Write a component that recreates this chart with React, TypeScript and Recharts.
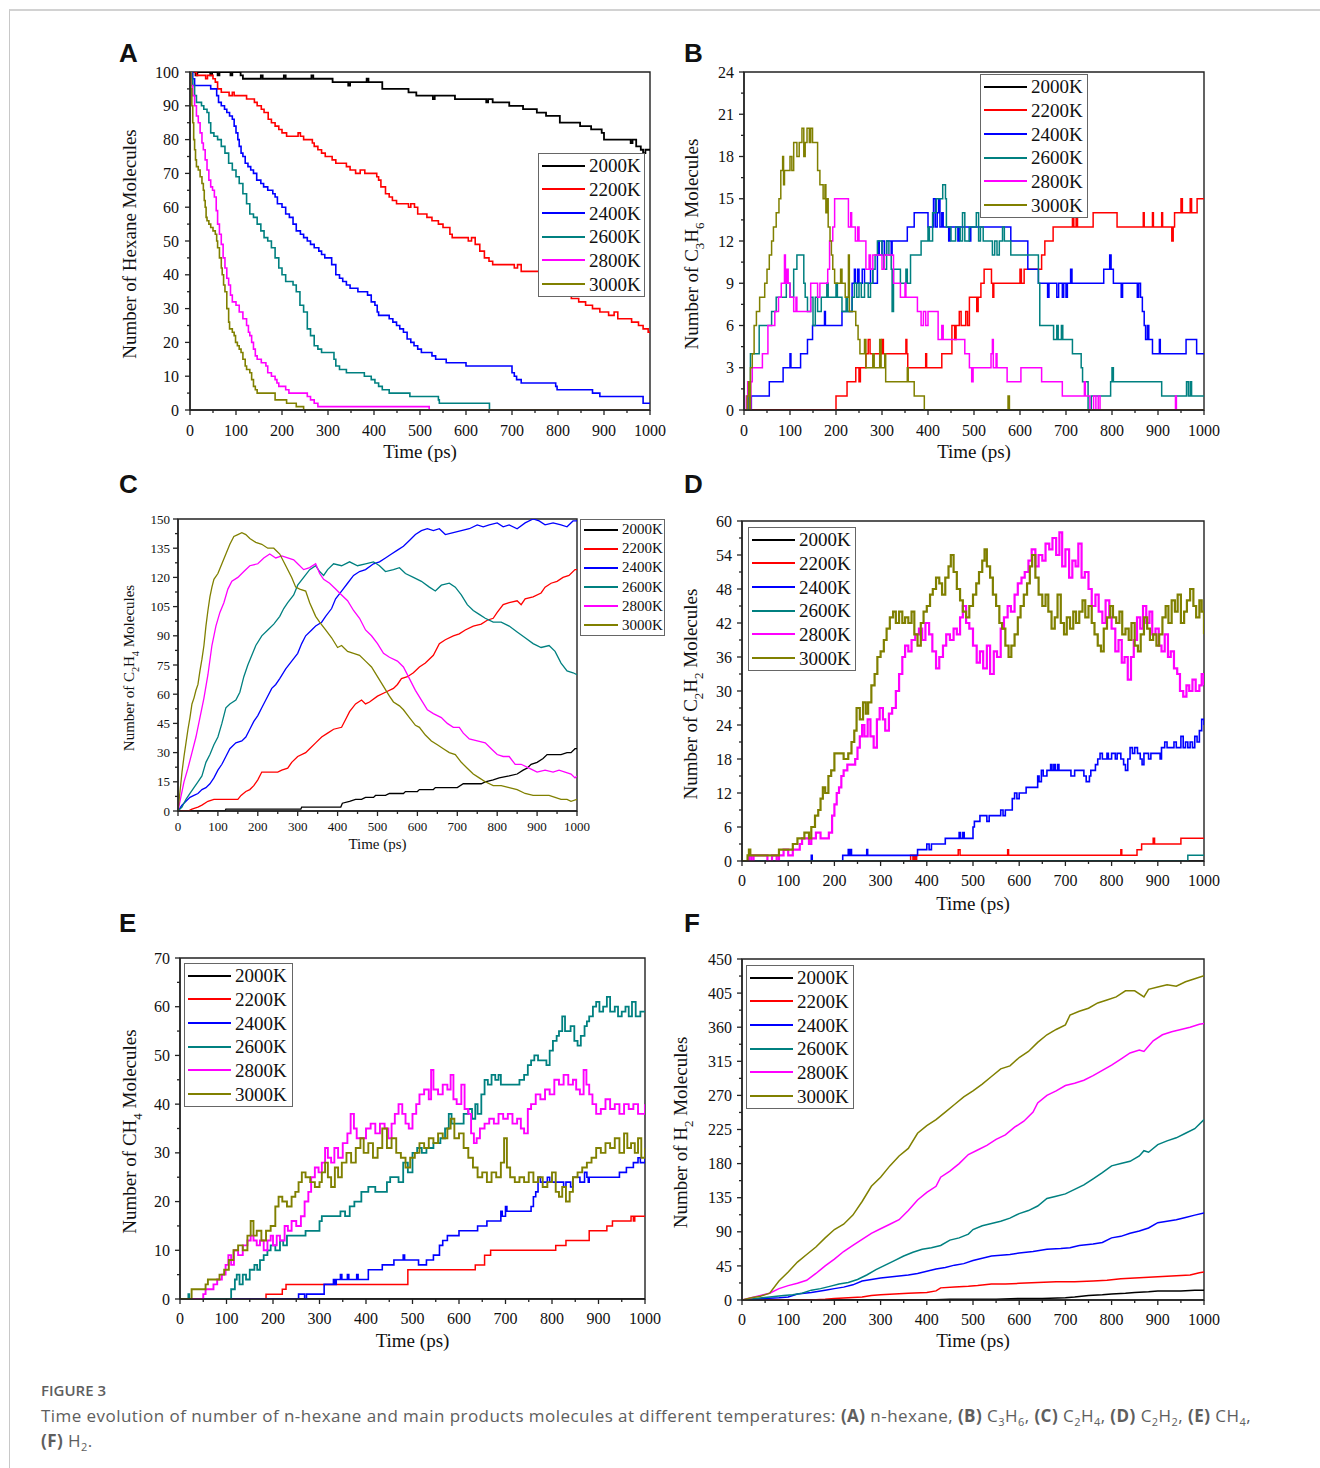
import React from 'react';
import { LineChart, Line, XAxis, YAxis, ReferenceArea, Legend } from 'recharts';

const SERIF = '"Liberation Serif", "Times New Roman", serif';
const TEMPS = ['2000K', '2200K', '2400K', '2600K', '2800K', '3000K'];
const COLORS = ['#000000', '#ff0000', '#0000ff', '#008080', '#ff00ff', '#808000'];
const X_MAJOR = [0, 100, 200, 300, 400, 500, 600, 700, 800, 900, 1000];

type P = [number, number];

// ---------- Panel A: n-hexane ----------
const A_Y = [0, 10, 20, 30, 40, 50, 60, 70, 80, 90, 100];
const A_2000: P[] = [[0,100],[8,100],[12,99],[16,100],[40,100],[44,99],[48,100],[60,99],[64,100],[88,99],[92,100],[110,99],[115,98],[150,98],[154,99],[158,98],[204,99],[208,98],[264,99],[268,98],[310,97],[344,96],[348,97],[384,98],[388,97],[418,95],[470,95],[475,94],[488,94],[492,93],[528,92],[532,93],[573,93],[576,92],[644,91],[648,92],[658,91],[694,90],[724,89],[754,88],[774,87],[804,85],[848,84],[872,83],[895,82],[900,80],[958,79],[962,80],[970,78],[980,77],[985,76],[990,77],[1000,77]];
const A_2200: P[] = [[0,100],[14,99],[34,98],[38,99],[50,98],[55,97],[60,95],[68,94],[85,93],[92,94],[96,93],[123,92],[140,91],[146,90],[155,89],[161,88],[170,86],[177,85],[185,84],[193,83],[200,82],[210,81],[235,82],[240,81],[247,80],[266,79],[270,78],[278,77],[286,76],[294,75],[309,74],[317,73],[340,72],[348,71],[360,70],[370,71],[380,70],[406,69],[410,68],[415,66],[425,64],[433,63],[440,62],[449,61],[475,60],[480,61],[488,60],[495,58],[515,57],[526,56],[540,55],[550,54],[565,52],[570,51],[605,50],[612,51],[620,49],[630,47],[640,45],[650,44],[658,43],[705,42],[712,43],[720,41],[760,40],[790,40],[800,38],[820,35],[829,33],[845,32],[860,31],[875,30],[891,29],[910,28],[922,29],[930,27],[960,26],[975,25],[985,24],[996,23],[1000,23]];
const A_2400: P[] = [[0,100],[6,98],[10,96],[45,95],[58,93],[62,91],[68,90],[75,89],[80,88],[86,87],[92,86],[96,84],[100,82],[104,80],[107,78],[111,76],[115,75],[120,73],[126,72],[132,71],[138,70],[145,68],[154,67],[160,66],[169,65],[180,64],[185,63],[190,61],[200,60],[208,58],[216,57],[224,55],[231,53],[240,52],[247,51],[255,50],[262,49],[270,48],[280,47],[286,46],[293,45],[308,43],[317,40],[325,39],[332,38],[340,37],[348,36],[365,35],[386,34],[394,32],[402,31],[407,29],[410,28],[433,27],[441,26],[449,25],[456,24],[464,23],[472,21],[480,20],[487,19],[495,18],[503,17],[526,16],[534,15],[557,14],[600,13],[700,11],[705,10],[710,9],[720,8],[795,7],[798,6],[875,5],[891,4],[985,2],[1000,2]];
const A_2600: P[] = [[0,100],[4,98],[6,96],[10,93],[14,91],[25,90],[30,89],[37,88],[41,85],[45,82],[52,81],[60,80],[68,78],[76,76],[84,73],[92,71],[100,69],[107,67],[115,64],[123,61],[130,58],[138,57],[146,55],[154,53],[161,51],[169,50],[177,48],[185,45],[193,42],[200,40],[208,38],[224,37],[231,35],[239,31],[247,29],[255,24],[262,22],[270,19],[278,18],[286,17],[313,15],[317,13],[325,12],[340,11],[379,10],[394,9],[402,8],[410,7],[418,6],[433,5],[478,4],[540,3],[542,2],[651,0],[1000,0]];
const A_2800: P[] = [[0,100],[2,96],[6,93],[10,90],[14,87],[18,85],[22,82],[26,79],[29,77],[33,74],[37,71],[41,68],[45,66],[49,65],[53,63],[57,59],[60,55],[64,52],[68,49],[72,45],[76,42],[80,39],[84,37],[88,34],[92,32],[100,31],[107,29],[115,27],[123,25],[127,23],[130,22],[134,20],[138,18],[142,16],[146,15],[155,14],[165,13],[169,11],[177,10],[185,9],[189,8],[193,7],[208,6],[215,5],[255,4],[262,3],[270,2],[278,1],[518,1],[520,0],[1000,0]];
const A_3000: P[] = [[0,100],[2,95],[4,90],[6,85],[8,80],[10,77],[12,74],[14,72],[18,71],[22,69],[26,67],[29,65],[31,62],[33,60],[35,57],[37,56],[41,55],[45,54],[50,53],[55,52],[58,50],[60,48],[64,45],[68,42],[70,40],[73,37],[76,35],[80,30],[84,26],[86,24],[92,23],[96,22],[99,20],[103,19],[107,18],[111,17],[115,15],[120,13],[123,12],[130,11],[134,9],[138,7],[142,6],[146,5],[185,3],[210,2],[231,1],[247,0],[1000,0]];

// ---------- Panel B: C3H6 ----------
const B_Y = [0, 3, 6, 9, 12, 15, 18, 21, 24];
const B_2000: P[] = [[0,0],[1000,0]];
const B_2200: P[] = [[0,0],[200,1],[224,2],[243,3],[250,2],[253,3],[265,4],[270,5],[274,4],[300,5],[303,4],[352,5],[354,4],[356,3],[395,4],[397,3],[430,4],[452,6],[458,5],[461,6],[468,7],[472,6],[482,7],[486,6],[490,8],[506,7],[509,8],[515,9],[522,10],[538,9],[541,8],[543,9],[600,10],[603,9],[609,10],[647,11],[654,12],[672,13],[714,14],[717,13],[722,14],[725,13],[759,14],[811,13],[868,14],[870,13],[888,14],[890,13],[908,14],[910,13],[930,12],[933,13],[936,14],[950,15],[953,14],[970,15],[973,14],[985,15],[1000,15]];
const B_2400: P[] = [[0,0],[16,1],[55,2],[85,3],[100,4],[102,3],[123,4],[138,5],[149,6],[175,7],[177,6],[213,7],[235,9],[240,10],[242,9],[247,10],[250,9],[257,10],[262,9],[275,10],[280,9],[290,11],[292,12],[294,11],[300,12],[305,11],[310,12],[320,11],[322,12],[355,13],[370,14],[400,13],[412,15],[416,13],[420,14],[423,15],[426,13],[430,14],[433,13],[445,12],[448,13],[465,12],[468,13],[490,12],[493,13],[580,12],[617,10],[640,9],[660,8],[663,9],[680,8],[684,9],[692,8],[695,9],[700,8],[703,9],[710,10],[713,9],[782,10],[795,11],[798,10],[803,9],[820,8],[823,9],[855,8],[858,9],[862,8],[866,7],[870,6],[873,5],[877,6],[880,5],[888,4],[903,5],[905,4],[961,5],[984,4],[1000,4]];
const B_2600: P[] = [[0,0],[10,2],[14,4],[33,6],[60,7],[70,8],[92,9],[100,8],[108,10],[115,11],[130,9],[133,8],[138,7],[145,8],[150,6],[155,8],[160,7],[168,8],[180,9],[183,8],[200,9],[203,8],[213,7],[222,8],[225,7],[235,8],[240,9],[245,8],[250,9],[255,8],[262,9],[270,8],[275,9],[280,10],[285,11],[290,12],[300,11],[304,10],[310,12],[315,11],[320,10],[322,7],[325,10],[340,9],[352,10],[355,9],[362,11],[385,12],[400,13],[403,12],[410,14],[418,15],[432,16],[438,15],[440,13],[450,12],[460,13],[470,12],[475,14],[480,12],[490,13],[505,14],[510,12],[514,13],[520,12],[540,11],[545,12],[550,11],[555,12],[562,13],[566,12],[580,11],[640,9],[643,6],[673,5],[680,6],[683,5],[690,6],[693,5],[714,4],[733,3],[736,2],[748,0],[755,1],[797,2],[800,3],[803,2],[908,1],[962,2],[966,1],[970,2],[973,1],[1000,1]];
const B_2800: P[] = [[0,0],[5,1],[8,2],[12,0],[15,2],[18,3],[40,4],[52,6],[67,7],[75,8],[81,9],[88,11],[90,9],[93,10],[96,9],[100,8],[108,7],[113,8],[115,7],[145,9],[160,8],[165,9],[182,10],[186,12],[193,13],[197,15],[227,13],[232,14],[234,13],[242,12],[247,13],[250,12],[265,10],[272,11],[275,10],[280,11],[300,10],[305,11],[325,9],[340,8],[350,9],[352,8],[377,7],[385,6],[390,7],[395,6],[400,7],[422,5],[430,6],[433,5],[480,4],[490,3],[495,2],[498,3],[537,4],[540,5],[542,3],[548,4],[550,3],[572,2],[602,3],[647,2],[692,1],[740,2],[742,1],[752,0],[760,1],[765,0],[770,1],[774,0],[938,1],[940,0],[1000,0]];
const B_3000: P[] = [[0,0],[7,1],[10,2],[12,0],[14,3],[18,4],[22,6],[27,7],[34,8],[45,9],[50,10],[55,11],[60,12],[64,13],[70,14],[76,15],[80,17],[84,18],[86,16],[88,17],[100,18],[104,17],[108,19],[115,18],[120,19],[126,20],[130,18],[133,19],[137,20],[142,19],[145,20],[149,19],[160,17],[165,16],[172,15],[176,16],[178,14],[180,15],[183,13],[187,12],[190,11],[193,10],[197,9],[210,10],[213,9],[220,8],[227,11],[229,7],[243,6],[248,5],[252,4],[262,5],[265,3],[280,4],[283,3],[295,5],[298,3],[306,4],[308,2],[355,3],[357,2],[370,1],[392,0],[574,1],[577,0],[1000,0]];

// ---------- Panel C: C2H4 ----------
const C_Y = [0, 15, 30, 45, 60, 75, 90, 105, 120, 135, 150];
const C_2000: P[] = [[0,0],[118,0],[120,1],[308,1],[310,2],[408,2],[412,4],[430,5],[445,6],[460,6],[470,7],[490,7],[495,8],[520,8],[530,9],[565,9],[570,10],[600,10],[605,11],[640,11],[645,12],[700,12],[715,14],[760,14],[770,15],[790,16],[805,17],[830,18],[850,19],[865,21],[875,22],[885,24],[900,25],[915,27],[925,29],[960,29],[975,30],[985,30],[995,32],[1000,32]];
const C_2200: P[] = [[0,0],[25,0],[35,1],[50,2],[60,3],[75,5],[90,6],[150,6],[158,8],[170,10],[180,11],[190,13],[200,16],[210,20],[250,20],[260,21],[275,22],[285,25],[300,28],[320,30],[330,32],[345,35],[360,38],[375,40],[390,42],[410,43],[420,47],[430,51],[445,55],[460,57],[470,55],[480,56],[500,59],[520,61],[540,63],[550,65],[560,68],[575,69],[590,71],[605,74],[620,76],[640,80],[655,86],[670,88],[690,90],[705,91],[720,93],[740,95],[760,96],[775,98],[790,99],[800,102],[815,106],[830,107],[850,108],[860,106],[870,109],[890,110],[910,112],[920,115],[935,117],[950,118],[965,120],[980,121],[995,124],[1000,124]];
const C_2400: P[] = [[0,0],[10,3],[20,5],[30,7],[40,8],[50,9],[60,11],[70,12],[80,14],[90,17],[100,21],[110,24],[120,28],[130,32],[145,35],[160,36],[170,38],[180,42],[190,46],[200,49],[210,53],[220,57],[235,63],[245,65],[255,68],[270,73],[285,77],[300,81],[310,86],[320,90],[335,93],[345,95],[360,97],[370,100],[385,104],[395,109],[410,113],[425,117],[440,121],[455,123],[470,124],[490,127],[505,128],[520,130],[535,132],[550,134],[565,136],[580,139],[595,142],[610,144],[625,145],[640,144],[655,145],[670,142],[690,143],[710,144],[730,145],[750,147],[765,146],[780,147],[800,148],[815,146],[830,147],[850,145],[870,148],[890,150],[905,149],[920,147],[940,148],[960,147],[975,146],[990,149],[1000,149]];
const C_2600: P[] = [[0,0],[10,2],[20,6],[30,9],[40,12],[50,15],[60,18],[70,25],[80,29],[90,34],[100,38],[110,45],[120,53],[130,55],[145,57],[155,61],[165,69],[175,75],[185,80],[195,85],[210,90],[225,93],[240,96],[255,100],[265,104],[275,107],[290,111],[300,116],[315,120],[330,124],[345,126],[355,123],[365,121],[375,124],[390,127],[410,126],[430,128],[450,126],[470,127],[490,128],[505,126],[520,123],[540,124],[555,125],[570,122],[590,120],[610,118],[630,115],[645,113],[660,116],[680,117],[695,115],[710,111],[725,106],[740,103],[755,101],[770,99],[790,97],[810,97],[830,95],[850,92],[870,89],[890,86],[910,84],[930,85],[945,82],[960,76],[975,72],[990,71],[1000,70]];
const C_2800: P[] = [[0,0],[8,8],[15,15],[25,22],[35,30],[45,38],[55,48],[65,58],[75,70],[85,85],[95,95],[105,102],[115,107],[125,114],[135,118],[150,120],[165,123],[180,126],[200,127],[215,130],[230,132],[245,130],[260,131],[275,130],[290,129],[300,127],[315,124],[330,125],[345,127],[355,122],[365,119],[380,117],[395,114],[410,111],[425,108],[440,103],[455,99],[470,93],[485,90],[500,86],[515,81],[530,79],[550,77],[565,74],[580,68],[595,62],[610,57],[625,52],[640,50],[660,48],[675,45],[690,43],[705,43],[715,40],[730,37],[750,36],[770,35],[785,32],[800,29],[815,28],[830,28],[845,24],[860,24],[880,22],[900,20],[920,21],[940,20],[955,21],[970,20],[985,19],[995,17],[1000,18]];
const C_3000: P[] = [[0,0],[5,10],[10,20],[15,28],[20,35],[25,42],[30,48],[35,55],[40,58],[45,62],[50,65],[55,72],[60,78],[65,85],[70,95],[75,103],[80,110],[85,115],[90,119],[100,122],[110,127],[120,132],[130,137],[140,141],[150,142],[160,143],[170,142],[180,140],[195,138],[210,137],[225,135],[240,135],[255,132],[270,126],[285,120],[295,115],[305,114],[320,113],[330,107],[345,100],[355,97],[370,93],[385,89],[400,84],[410,85],[425,82],[440,81],[455,80],[470,77],[485,74],[500,69],[515,64],[530,59],[540,56],[555,54],[565,52],[580,48],[595,44],[605,43],[620,39],[635,36],[650,34],[665,32],[680,30],[695,29],[710,25],[725,22],[740,19],[755,17],[770,15],[790,13],[810,13],[830,12],[850,11],[870,9],[890,8],[910,8],[930,8],[945,7],[960,6],[975,6],[985,5],[1000,6]];

// ---------- Panel D: C2H2 ----------
const D_Y = [0, 6, 12, 18, 24, 30, 36, 42, 48, 54, 60];
const D_2000: P[] = [[0,0],[1000,0]];
const D_2200: P[] = [[0,0],[365,1],[370,0],[373,1],[376,0],[378,1],[468,2],[472,1],[575,2],[577,1],[820,2],[822,1],[855,2],[865,3],[890,4],[893,3],[950,4],[1000,4]];
const D_2400: P[] = [[0,0],[150,1],[152,0],[218,1],[230,2],[232,1],[235,2],[237,1],[270,2],[272,1],[380,2],[400,3],[405,2],[410,3],[440,4],[470,5],[473,4],[478,5],[481,4],[500,6],[503,7],[515,8],[530,7],[535,8],[560,9],[565,8],[570,9],[585,11],[590,12],[595,11],[600,12],[615,13],[640,15],[643,14],[648,16],[652,15],[660,16],[668,17],[671,16],[675,17],[678,16],[683,17],[686,16],[712,15],[720,16],[740,15],[745,14],[752,15],[755,16],[765,17],[770,18],[775,19],[780,18],[790,19],[793,18],[800,19],[808,18],[812,19],[820,18],[826,17],[830,16],[835,18],[840,20],[845,19],[850,20],[856,19],[862,18],[866,17],[870,19],[880,18],[885,19],[905,18],[908,20],[915,21],[920,20],[935,21],[940,20],[950,22],[955,20],[960,21],[965,20],[970,21],[975,20],[980,22],[985,21],[990,23],[995,25],[1000,24]];
const D_2600: P[] = [[0,0],[965,1],[1000,1]];
const D_2800: P[] = [[0,0],[15,1],[20,0],[25,1],[55,0],[65,1],[75,0],[80,1],[90,2],[100,1],[110,2],[125,3],[130,4],[145,3],[150,4],[160,5],[170,4],[188,5],[195,8],[200,10],[205,12],[210,13],[215,15],[220,16],[228,17],[245,18],[250,20],[255,22],[260,24],[265,22],[272,25],[278,22],[285,20],[292,25],[298,27],[305,25],[310,23],[318,26],[325,27],[333,30],[340,33],[347,36],[353,38],[360,37],[367,39],[375,40],[383,41],[390,39],[397,42],[405,40],[412,37],[420,34],[427,36],[435,38],[442,40],[450,39],[458,41],[465,40],[472,43],[478,45],[485,42],[492,41],[500,38],[508,35],[515,37],[522,34],[530,38],[537,33],[545,37],[552,36],[560,41],[567,43],[575,45],[582,44],[590,47],[597,49],[605,50],[612,51],[620,53],[627,55],[635,52],[642,54],[650,53],[657,56],[665,55],[672,57],[680,54],[687,58],[693,52],[700,55],[708,50],[715,53],[722,52],[728,56],[735,50],[742,51],[750,48],[757,45],[765,47],[772,44],[780,42],[787,46],[795,43],[800,41],[808,37],[815,39],[822,35],[828,36],[835,32],[842,36],[848,39],[855,43],[862,41],[868,45],[875,42],[882,44],[888,40],[895,41],[902,38],[908,37],[915,40],[922,36],[928,37],[935,34],[942,33],[948,30],[955,29],[962,31],[968,30],[975,32],[982,30],[990,31],[995,33],[1000,31]];
const D_3000: P[] = [[0,0],[12,1],[15,2],[18,1],[80,2],[110,3],[120,4],[135,5],[145,4],[150,6],[158,8],[165,9],[170,11],[175,13],[180,12],[187,15],[193,16],[200,19],[220,18],[230,19],[237,21],[243,23],[248,27],[255,25],[262,28],[268,26],[273,28],[280,31],[287,33],[293,36],[300,37],[307,39],[313,41],[320,43],[327,44],[333,42],[340,44],[347,42],[353,43],[360,42],[367,44],[373,40],[380,38],[387,42],[393,44],[400,45],[407,47],[413,48],[420,50],[427,49],[433,47],[440,50],[447,52],[452,54],[458,51],[465,48],[472,46],[478,44],[485,43],[492,45],[500,47],[507,49],[513,51],[520,53],[525,55],[530,52],[537,50],[543,47],[550,45],[557,42],[563,41],[570,38],[577,36],[583,38],[590,40],[597,43],[603,45],[610,47],[617,49],[623,52],[628,54],[635,50],[642,47],[650,45],[657,47],[663,44],[670,41],[677,43],[683,47],[690,42],[697,40],[703,43],[710,41],[717,44],[723,42],[730,44],[737,46],[743,43],[750,45],[757,42],[763,40],[770,38],[777,37],[783,41],[790,43],[797,45],[803,43],[810,42],[817,44],[823,40],[830,41],[837,39],[843,42],[850,38],[857,37],[863,40],[870,43],[877,41],[883,39],[890,40],[897,38],[903,40],[910,43],[917,45],[923,42],[930,46],[937,44],[943,47],[950,42],[957,44],[963,46],[970,48],[977,45],[983,43],[990,46],[995,44],[1000,40]];

// ---------- Panel E: CH4 ----------
const E_Y = [0, 10, 20, 30, 40, 50, 60, 70];
const E_2000: P[] = [[0,0],[1000,0]];
const E_2200: P[] = [[0,0],[185,1],[220,2],[228,3],[490,6],[635,7],[655,9],[668,10],[808,11],[830,12],[880,14],[918,15],[930,16],[970,17],[975,16],[978,17],[1000,17]];
const E_2400: P[] = [[0,0],[255,1],[268,0],[272,1],[310,3],[330,4],[333,3],[336,4],[345,5],[348,4],[360,5],[363,4],[380,5],[383,4],[405,6],[435,7],[460,8],[480,9],[483,8],[513,7],[530,8],[545,9],[558,11],[565,12],[575,13],[600,14],[640,15],[660,16],[690,18],[693,17],[700,19],[703,18],[755,19],[760,21],[765,22],[770,25],[775,24],[790,25],[795,24],[825,23],[830,24],[840,23],[845,25],[860,24],[870,26],[875,25],[878,24],[880,25],[945,26],[960,27],[975,28],[985,29],[990,28],[1000,29]];
const E_2600: P[] = [[0,0],[18,1],[20,0],[110,2],[118,4],[122,5],[128,3],[135,5],[142,4],[150,6],[160,7],[166,6],[172,8],[180,9],[188,10],[195,11],[205,10],[215,12],[222,11],[230,13],[270,14],[300,16],[305,17],[345,18],[355,17],[365,19],[375,20],[390,22],[405,23],[420,22],[445,24],[452,25],[470,24],[480,28],[490,26],[500,30],[510,31],[520,30],[530,31],[545,32],[560,33],[570,35],[578,38],[584,36],[610,38],[620,39],[628,37],[635,40],[640,38],[648,42],[655,45],[662,44],[670,46],[678,45],[685,46],[690,44],[730,45],[740,46],[748,48],[755,49],[762,50],[770,49],[788,48],[795,51],[802,53],[810,54],[815,55],[822,58],[828,55],[840,56],[848,53],[855,52],[862,54],[870,56],[875,57],[880,58],[888,60],[895,61],[902,59],[910,60],[918,62],[925,59],[935,60],[942,58],[950,59],[958,60],[965,58],[972,61],[980,58],[990,59],[1000,59]];
const E_2800: P[] = [[0,0],[50,1],[55,2],[72,3],[80,4],[90,5],[98,7],[104,9],[110,7],[116,10],[125,9],[135,11],[145,12],[152,13],[158,12],[165,11],[172,12],[180,10],[188,12],[195,13],[200,11],[208,13],[215,12],[225,15],[232,14],[240,16],[250,15],[260,17],[268,20],[276,22],[282,25],[290,27],[298,26],[305,28],[312,31],[318,29],[325,28],[332,31],[340,29],[350,32],[360,34],[367,38],[374,35],[380,33],[400,35],[410,36],[420,34],[430,36],[440,35],[448,33],[455,36],[462,38],[470,40],[478,38],[485,36],[492,35],[500,38],[508,40],[515,42],[525,43],[535,41],[540,47],[545,43],[555,42],[565,44],[575,43],[582,46],[588,41],[595,40],[605,44],[612,39],[620,38],[626,34],[632,32],[638,33],[645,35],[655,36],[665,37],[675,36],[685,38],[695,37],[705,38],[715,36],[725,37],[733,35],[740,34],[748,39],[755,40],[765,42],[775,41],[785,43],[795,42],[805,45],[815,44],[825,46],[835,44],[845,45],[852,43],[860,42],[868,47],[874,44],[880,42],[887,40],[895,38],[905,39],[915,41],[925,39],[935,40],[945,38],[955,40],[965,39],[975,40],[985,38],[1000,40]];
const E_3000: P[] = [[0,0],[25,2],[55,3],[60,4],[85,5],[95,6],[105,8],[115,10],[125,11],[135,10],[145,13],[152,16],[158,13],[165,14],[175,12],[185,14],[195,15],[205,19],[212,21],[220,20],[230,19],[240,21],[248,22],[255,24],[262,26],[270,25],[280,24],[290,23],[300,24],[305,26],[312,28],[318,25],[325,23],[333,27],[340,25],[348,28],[358,30],[368,28],[378,31],[388,33],[395,30],[405,32],[415,29],[425,31],[435,35],[445,31],[455,33],[465,30],[475,29],[485,27],[495,29],[505,30],[515,32],[525,31],[535,33],[545,32],[555,34],[565,33],[575,35],[582,37],[590,33],[600,34],[610,31],[620,29],[630,27],[640,25],[650,26],[660,24],[670,26],[680,25],[690,28],[697,33],[703,27],[710,25],[720,24],[730,25],[740,24],[750,26],[760,24],[770,25],[780,23],[790,24],[800,26],[808,22],[815,21],[822,23],[830,20],[838,22],[845,25],[855,26],[865,27],[875,28],[885,29],[895,31],[905,30],[915,32],[925,31],[935,33],[945,30],[955,34],[962,31],[970,32],[978,30],[985,33],[992,29],[1000,31]];

// ---------- Panel F: H2 ----------
const F_Y = [0, 45, 90, 135, 180, 225, 270, 315, 360, 405, 450];
const F_2000: P[] = [[0,0],[150,0],[300,0],[400,0],[450,1],[500,1],[550,1],[600,2],[650,2],[700,3],[720,4],[750,6],[780,7],[800,8],[830,9],[850,10],[880,11],[900,12],[950,12],[980,13],[1000,13]];
const F_2200: P[] = [[0,0],[150,0],[180,1],[200,2],[230,3],[260,4],[280,6],[300,7],[330,8],[360,9],[400,10],[420,12],[430,16],[460,17],[490,18],[510,19],[540,21],[570,21],[600,22],[640,23],[680,24],[720,24],[760,25],[790,26],[820,28],[850,29],[880,30],[910,31],[940,32],[970,33],[990,36],[1000,37]];
const F_2400: P[] = [[0,0],[20,1],[50,2],[80,3],[100,4],[120,8],[150,10],[180,13],[200,15],[220,17],[240,20],[260,25],[280,27],[300,29],[330,31],[360,33],[380,35],[400,38],[420,41],[440,43],[460,46],[480,48],[500,52],[520,55],[540,58],[560,59],[580,60],[600,62],[630,64],[660,67],[690,68],[710,69],[730,72],[760,74],[780,76],[800,82],[820,84],[840,88],[860,91],[880,95],[900,102],[920,104],[940,106],[960,109],[980,112],[1000,115]];
const F_2600: P[] = [[0,0],[30,2],[60,4],[90,6],[110,7],[130,9],[150,13],[170,15],[190,18],[210,21],[230,23],[250,27],[270,33],[290,40],[310,46],[330,52],[350,58],[370,63],[390,67],[410,69],[430,72],[450,79],[470,82],[490,87],[500,93],[520,98],[540,101],[560,104],[580,108],[600,114],[620,118],[640,124],[660,134],[680,137],[700,140],[720,146],[740,152],[760,160],[780,168],[800,177],[820,180],[840,183],[860,190],[870,197],[880,195],[900,205],[920,210],[940,214],[960,220],[980,226],[1000,238]];
const F_2800: P[] = [[0,0],[20,3],[40,6],[60,9],[80,15],[100,19],[120,22],[140,26],[160,35],[180,45],[200,54],[220,64],[240,72],[260,80],[280,88],[300,94],[320,100],[340,106],[360,118],[380,132],[400,142],[420,150],[430,162],[450,170],[470,180],[490,192],[510,198],[530,204],[550,212],[570,218],[590,228],[610,236],[630,248],[640,260],[660,270],[680,276],[700,283],[720,286],[740,290],[760,296],[780,303],[800,310],[820,318],[840,326],[860,330],[870,328],[890,342],[910,350],[930,354],[950,357],[970,360],[990,364],[1000,365]];
const F_3000: P[] = [[0,0],[20,3],[40,5],[60,9],[80,25],[100,37],[120,50],[140,60],[160,70],[180,82],[200,93],[220,100],[240,112],[260,130],[280,150],[300,162],[320,177],[340,190],[360,200],[380,220],[400,230],[420,238],[440,248],[460,258],[480,268],[500,276],[520,285],[540,295],[560,305],[580,309],[600,320],[620,328],[640,340],[660,350],[680,357],[700,363],[710,376],[730,381],[750,385],[770,392],[790,396],[810,400],[830,408],[850,408],[870,400],[880,410],[900,413],[920,416],[940,414],[960,420],[980,424],[1000,428]];

// ---------- helpers ----------
function withMinor(majors: number[]): number[] {
  const out: number[] = [];
  for (let i = 0; i < majors.length; i++) {
    out.push(majors[i]);
    if (i < majors.length - 1) out.push((majors[i] + majors[i + 1]) / 2);
  }
  return out;
}

function toPts(arr: P[]) {
  return arr.map(([t, v]) => ({ t, v }));
}

function Chem({ text, fs }: { text: string; fs: number }) {
  const groups = text.match(/(\d+|\D+)/g) || [];
  const shift = fs * 0.3;
  let inSub = false;
  return (
    <>
      {groups.map((g, i) => {
        const isDigit = /^\d+$/.test(g);
        let dy = 0;
        if (isDigit && !inSub) dy = shift;
        if (!isDigit && inSub) dy = -shift;
        inSub = isDigit;
        return (
          <tspan key={i} dy={dy} fontSize={isDigit ? fs * 0.68 : fs}>
            {g}
          </tspan>
        );
      })}
    </>
  );
}

interface LegendCfg { x: number; y: number; w: number; rowH: number; fs: number; lineW: number }
interface PanelCfg {
  letter: string; letterX: number; letterY: number;
  L: number; T: number; R: number; B: number;
  yMajor: number[];
  yTitle: string; yTitleDx: number;
  xTitleDy: number; xTickDy: number; yTickGap: number;
  tickFs: number; titleFs: number;
  legend: LegendCfg;
  series: P[][];
  steps: boolean[];
  widths: number[];
  mr?: number;
}

function LegendBox({ payload, cfg }: { payload: any[]; cfg: LegendCfg }) {
  return (
    <div style={{ width: cfg.w, height: cfg.rowH * 6, border: '1px solid #666', background: '#fff', boxSizing: 'border-box', paddingLeft: 3 }}>
      {(payload || []).map((p: any) => (
        <div key={p.value} style={{ display: 'flex', alignItems: 'center', height: cfg.rowH - 0.34 }}>
          <svg width={cfg.lineW} height={4} style={{ display: 'block', flex: 'none' }}>
            <line x1={0} x2={cfg.lineW} y1={2} y2={2} stroke={p.color} strokeWidth={2} />
          </svg>
          <span style={{ marginLeft: 4, fontFamily: SERIF, fontSize: cfg.fs, lineHeight: 1, color: '#111', whiteSpace: 'nowrap' }}>{p.value}</span>
        </div>
      ))}
    </div>
  );
}

function Panel({ cfg }: { cfg: PanelCfg }) {
  const ML = 80, MT = 10, MB = 60, MR = cfg.mr ?? 20;
  const pw = cfg.R - cfg.L, ph = cfg.B - cfg.T;
  const W = pw + ML + MR, H = ph + MT + MB;
  const yMax = cfg.yMajor[cfg.yMajor.length - 1];
  const yTicks = withMinor(cfg.yMajor);
  const xTicks = withMinor(X_MAJOR);
  const ox = cfg.L - ML, oy = cfg.T - MT;

  const yTick = (props: any) => {
    const { x, y, payload } = props;
    const v = payload.value;
    const maj = cfg.yMajor.includes(v);
    return (
      <g>
        <line x1={x} y1={y} x2={x - (maj ? 5 : 3)} y2={y} stroke="#222" strokeWidth={1.3} />
        {maj && (
          <text x={x - cfg.yTickGap} y={y} dy="0.35em" textAnchor="end" fontSize={cfg.tickFs} fontFamily={SERIF} fill="#111">
            {v}
          </text>
        )}
      </g>
    );
  };
  const xTick = (props: any) => {
    const { x, y, payload } = props;
    const v = payload.value;
    const maj = X_MAJOR.includes(v);
    return (
      <g>
        <line x1={x} y1={y} x2={x} y2={y + (maj ? 5 : 3)} stroke="#222" strokeWidth={1.3} />
        {maj && (
          <text x={x} y={y + cfg.xTickDy} dy="0.35em" textAnchor="middle" fontSize={cfg.tickFs} fontFamily={SERIF} fill="#111">
            {v}
          </text>
        )}
      </g>
    );
  };
  const cx = ML - cfg.yTitleDx;
  const cy = MT + ph / 2 + 3;
  const yLabel = () => (
    <text x={cx} y={cy} dy="0.35em" transform={`rotate(-90 ${cx} ${cy})`} textAnchor="middle" fontSize={cfg.titleFs} fontFamily={SERIF} fill="#111">
      <Chem text={cfg.yTitle} fs={cfg.titleFs} />
    </text>
  );
  const xLabel = () => (
    <text x={ML + pw / 2} y={MT + ph + cfg.xTitleDy} textAnchor="middle" fontSize={cfg.titleFs} fontFamily={SERIF} fill="#111">
      Time (ps)
    </text>
  );

  return (
    <>
      <div style={{ position: 'absolute', left: cfg.letterX, top: cfg.letterY, fontFamily: '"Liberation Sans", Arial, sans-serif', fontWeight: 700, fontSize: 26, lineHeight: 1, color: '#111' }}>
        {cfg.letter}
      </div>
      <div style={{ position: 'absolute', left: ox, top: oy }}>
        <LineChart width={W} height={H} margin={{ top: MT, right: MR, left: 0, bottom: 0 }}>
          <ReferenceArea x1={0} x2={1000} y1={0} y2={yMax} fill="none" stroke="#222" strokeWidth={1.4} />
          <XAxis
            type="number"
            dataKey="t"
            domain={[0, 1000]}
            ticks={xTicks}
            interval={0}
            height={MB}
            tickSize={0}
            tickMargin={0}
            tickLine={false}
            axisLine={{ stroke: '#222', strokeWidth: 1.4 }}
            tick={xTick}
            label={xLabel}
            allowDataOverflow
          />
          <YAxis
            type="number"
            domain={[0, yMax]}
            ticks={yTicks}
            interval={0}
            width={ML}
            tickSize={0}
            tickMargin={0}
            tickLine={false}
            axisLine={{ stroke: '#222', strokeWidth: 1.4 }}
            tick={yTick}
            label={yLabel}
            allowDataOverflow
          />
          {cfg.series.map((s, i) => (
            <Line
              key={TEMPS[i]}
              data={toPts(s)}
              dataKey="v"
              name={TEMPS[i]}
              type={cfg.steps[i] ? 'stepAfter' : 'linear'}
              stroke={COLORS[i]}
              strokeWidth={cfg.widths[i]}
              dot={false}
              activeDot={false}
              isAnimationActive={false}
            />
          ))}
          <Legend
            layout="vertical"
            align="center"
            verticalAlign="middle"
            wrapperStyle={{ left: cfg.legend.x - ox, top: cfg.legend.y - oy, width: cfg.legend.w }}
            content={(p: any) => <LegendBox payload={p.payload} cfg={cfg.legend} />}
          />
        </LineChart>
      </div>
    </>
  );
}

const BIG_LEGEND = { rowH: 24, fs: 19, lineW: 43 };
const ALL_STEP = [true, true, true, true, true, true];
const NO_STEP = [false, false, false, false, false, false];
const W15 = [1.5, 1.5, 1.5, 1.5, 1.5, 1.5];

const PANELS: PanelCfg[] = [
  {
    letter: 'A', letterX: 119, letterY: 40, L: 190, T: 72, R: 650, B: 410, yMajor: A_Y,
    yTitle: 'Number of Hexane Molecules', yTitleDx: 54, xTitleDy: 48, xTickDy: 20, yTickGap: 11,
    tickFs: 16, titleFs: 19, legend: { x: 538, y: 153, w: 107, ...BIG_LEGEND },
    series: [A_2000, A_2200, A_2400, A_2600, A_2800, A_3000], steps: ALL_STEP, widths: [1.8, 1.6, 1.6, 1.6, 1.6, 1.6],
  },
  {
    letter: 'B', letterX: 684, letterY: 40, L: 744, T: 72, R: 1204, B: 410, yMajor: B_Y,
    yTitle: 'Number of C3H6 Molecules', yTitleDx: 46, xTitleDy: 48, xTickDy: 20, yTickGap: 10,
    tickFs: 16, titleFs: 19, legend: { x: 980, y: 74, w: 108, ...BIG_LEGEND },
    series: [B_2000, B_2200, B_2400, B_2600, B_2800, B_3000], steps: ALL_STEP, widths: W15,
  },
  {
    letter: 'C', letterX: 119, letterY: 471, L: 178, T: 519, R: 577, B: 811, yMajor: C_Y,
    yTitle: 'Number of C2H4 Molecules', yTitleDx: 44, xTitleDy: 38, xTickDy: 15, yTickGap: 8,
    tickFs: 13, titleFs: 15, legend: { x: 580, y: 519, w: 85, rowH: 19.5, fs: 15, lineW: 34 },
    series: [C_2000, C_2200, C_2400, C_2600, C_2800, C_3000], steps: NO_STEP, widths: [1.3, 1.3, 1.3, 1.3, 1.3, 1.3], mr: 100,
  },
  {
    letter: 'D', letterX: 684, letterY: 471, L: 742, T: 521, R: 1204, B: 861, yMajor: D_Y,
    yTitle: 'Number of C2H2 Molecules', yTitleDx: 45, xTitleDy: 49, xTickDy: 19, yTickGap: 10,
    tickFs: 16, titleFs: 19, legend: { x: 748, y: 527, w: 108, ...BIG_LEGEND },
    series: [D_2000, D_2200, D_2400, D_2600, D_2800, D_3000], steps: ALL_STEP, widths: [1.5, 1.5, 1.6, 1.5, 2.2, 2.2],
  },
  {
    letter: 'E', letterX: 119, letterY: 910, L: 180, T: 958, R: 645, B: 1299, yMajor: E_Y,
    yTitle: 'Number of CH4 Molecules', yTitleDx: 44, xTitleDy: 48, xTickDy: 19, yTickGap: 10,
    tickFs: 16, titleFs: 19, legend: { x: 184, y: 963, w: 109, ...BIG_LEGEND },
    series: [E_2000, E_2200, E_2400, E_2600, E_2800, E_3000], steps: ALL_STEP, widths: [1.5, 1.5, 1.6, 1.8, 1.9, 1.9],
  },
  {
    letter: 'F', letterX: 684, letterY: 910, L: 742, T: 959, R: 1204, B: 1300, yMajor: F_Y,
    yTitle: 'Number of H2 Molecules', yTitleDx: 55, xTitleDy: 47, xTickDy: 19, yTickGap: 10,
    tickFs: 16, titleFs: 19, legend: { x: 746, y: 965, w: 108, ...BIG_LEGEND },
    series: [F_2000, F_2200, F_2400, F_2600, F_2800, F_3000], steps: NO_STEP, widths: W15,
  },
];

const CAPTION_FONT = '"Open Sans", "Noto Sans", sans-serif';
const SUB = { fontSize: 11, lineHeight: 0 };

export default function App() {
  return (
    <div style={{ position: 'absolute', left: 0, top: 0, width: 1320, height: 1468, background: '#fff', overflow: 'hidden' }}>
      <div style={{ position: 'absolute', left: 9, top: 9, width: 1311, height: 1459, borderTop: '2px solid #d2d2d2', borderLeft: '1px solid #c8c8c8', boxSizing: 'border-box' }} />
      {PANELS.map((p) => (
        <Panel key={p.letter} cfg={p} />
      ))}
      <div style={{ position: 'absolute', left: 41, top: 1378, width: 1275, fontFamily: CAPTION_FONT, lineHeight: '25px', color: '#5e5e5e', whiteSpace: 'nowrap' }}>
        <div style={{ fontWeight: 600, fontSize: 15, letterSpacing: 0 }}>FIGURE 3</div>
        <div style={{ fontSize: 17, letterSpacing: 0.45 }}>
          Time evolution of number of n-hexane and main products molecules at different temperatures: <b>(A)</b> n-hexane, <b>(B)</b> C<sub style={SUB}>3</sub>H<sub style={SUB}>6</sub>, <b>(C)</b> C<sub style={SUB}>2</sub>H<sub style={SUB}>4</sub>, <b>(D)</b> C<sub style={SUB}>2</sub>H<sub style={SUB}>2</sub>, <b>(E)</b> CH<sub style={SUB}>4</sub>,
          <br />
          <b>(F)</b> H<sub style={SUB}>2</sub>.
        </div>
      </div>
    </div>
  );
}
